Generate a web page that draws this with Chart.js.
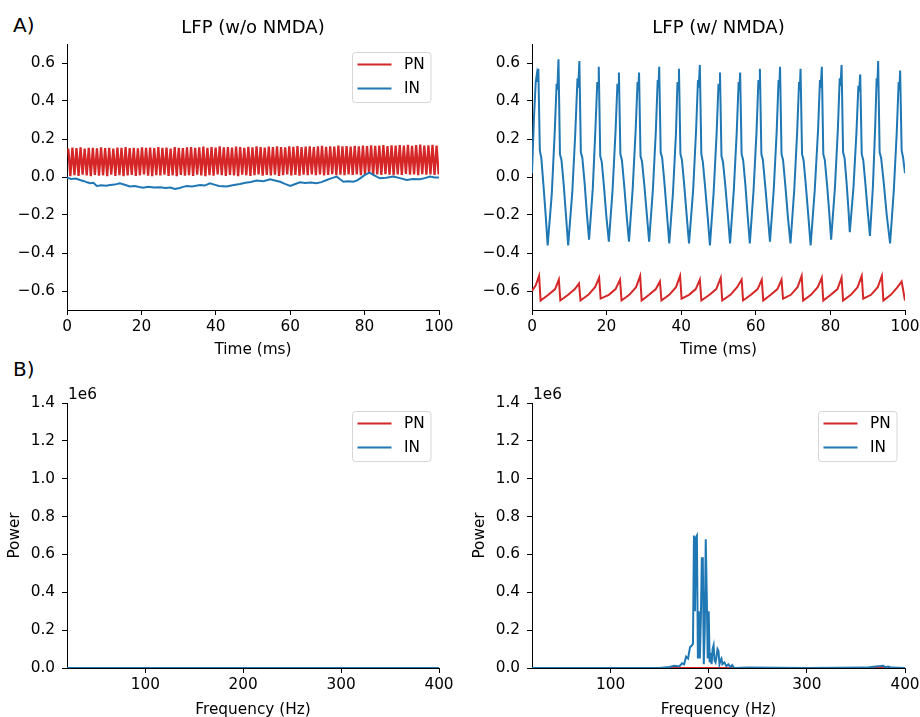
<!DOCTYPE html>
<html>
<head>
<meta charset="utf-8">
<script src="https://cdn.jsdelivr.net/npm/chart.js@4.4.1/dist/chart.umd.min.js"></script>
<style>
  body { margin: 0; width: 920px; height: 717px; overflow: hidden; background: #fff; position: relative; }
  canvas { position: absolute; }
  .panel { position: absolute; font: 20px "DejaVu Sans", sans-serif; line-height: 20px; color: #000; }
</style>
</head>
<body>
<div class="panel" style="left:13px; top:15.4px;">A)</div>
<div class="panel" style="left:13px; top:359px;">B)</div>
<canvas id="lfpNoNmda"></canvas>
<canvas id="lfpNmda"></canvas>
<canvas id="psdNoNmda"></canvas>
<canvas id="psdNmda"></canvas>
<script>
// tick labels
const timeTicks = [0, 20, 40, 60, 80, 100];
const lfpTicks = [-0.6, -0.4, -0.2, 0.0, 0.2, 0.4, 0.6];
const freqTicks = [100, 200, 300, 400];
const powerTicks = [0.0, 0.2, 0.4, 0.6, 0.8, 1.0, 1.2, 1.4];

// LFP w/o NMDA, PN: fast oscillation, one peak and one trough per cycle
const pnFlatStart = 0.35, pnFlatPeriod = 1.1; // ms
const pnFlatPeaks = [
  0.150, 0.155, 0.152, 0.156, 0.150, 0.154, 0.153, 0.151, 0.156, 0.152,
  0.154, 0.150, 0.155, 0.153, 0.157, 0.152, 0.154, 0.151, 0.156, 0.153,
  0.155, 0.152, 0.158, 0.153, 0.155, 0.150, 0.157, 0.154, 0.152, 0.156,
  0.158, 0.153, 0.156, 0.160, 0.154, 0.157, 0.155, 0.161, 0.156, 0.158,
  0.155, 0.160, 0.157, 0.154, 0.159, 0.156, 0.161, 0.158, 0.155, 0.160,
  0.157, 0.162, 0.158, 0.156, 0.161, 0.159, 0.163, 0.157, 0.160, 0.162,
  0.158, 0.161, 0.164, 0.159, 0.162, 0.160, 0.165, 0.161, 0.163, 0.160,
  0.164, 0.162, 0.166, 0.163, 0.167, 0.164, 0.166, 0.168, 0.163, 0.167,
  0.165, 0.168, 0.166, 0.169, 0.164, 0.168, 0.170, 0.165, 0.167, 0.169, 0.166
];
const pnFlatTroughs = [
  0.005, 0.010, 0.006, 0.012, 0.008, 0.004, 0.011, 0.007, 0.009, 0.005,
  0.012, 0.006, 0.010, 0.004, 0.008, 0.011, 0.006, 0.009, 0.013, 0.007,
  0.005, 0.010, 0.008, 0.012, 0.006, 0.009, 0.004, 0.011, 0.007, 0.010,
  0.006, 0.012, 0.008, 0.005, 0.010, 0.007, 0.013, 0.009, 0.006, 0.011,
  0.008, 0.005, 0.012, 0.009, 0.006, 0.010, 0.014, 0.007, 0.011, 0.008,
  0.012, 0.006, 0.010, 0.013, 0.008, 0.011, 0.007, 0.012, 0.009, 0.014,
  0.010, 0.013, 0.008, 0.011, 0.015, 0.009, 0.012, 0.010, 0.014, 0.011,
  0.013, 0.009, 0.012, 0.016, 0.010, 0.013, 0.011, 0.015, 0.012, 0.010,
  0.014, 0.011, 0.016, 0.012, 0.013, 0.010, 0.015, 0.012, 0.014, 0.011, 0.013
];

// LFP w/o NMDA, IN
const inFlatT = [0, 1.2, 2.4, 3.5, 4.6, 5.4, 6.2, 7.1, 8.0, 9.3,
  10.5, 11.6, 12.8, 14.2, 15.5, 16.9, 18.2, 19.4, 20.5, 21.8,
  23.4, 25.0, 26.5, 27.8, 29.0, 30.3, 31.2, 32.2, 33.6, 35.8,
  37.0, 38.4, 39.6, 40.8, 42.9, 44.5, 46.5, 48.0, 49.4, 51.0,
  52.8, 54.6, 55.9, 57.3, 58.6, 60.0, 61.2, 62.6, 64.0, 65.5,
  67.1, 68.4, 69.8, 71.2, 72.5, 73.4, 74.3, 75.6, 77.0, 78.0,
  78.8, 80.0, 81.3, 82.6, 84.1, 85.8, 87.7, 89.5, 91.3, 93.0,
  94.9, 96.2, 97.6, 98.8, 100];
const inFlatV = [-0.004, -0.010, -0.008, -0.016, -0.022, -0.028, -0.033, -0.030, -0.047, -0.044,
  -0.046, -0.042, -0.040, -0.033, -0.041, -0.050, -0.048, -0.053, -0.056, -0.051,
  -0.055, -0.054, -0.058, -0.055, -0.063, -0.058, -0.052, -0.047, -0.050, -0.042,
  -0.045, -0.033, -0.040, -0.047, -0.050, -0.043, -0.037, -0.030, -0.026, -0.019,
  -0.022, -0.012, -0.018, -0.025, -0.036, -0.047, -0.038, -0.028, -0.031, -0.029,
  -0.033, -0.027, -0.016, -0.006, 0.002, -0.012, -0.025, -0.022, -0.025, -0.018,
  -0.007, 0.010, 0.023, 0.008, -0.007, -0.004, 0.002, -0.006, -0.016, -0.010,
  -0.012, -0.006, 0.002, -0.003, -0.002];

// LFP w/ NMDA, PN
const pnNmdaT = [0, 1.0, 1.9,
  2.3, 4.4, 6.2, 7.2,  7.6, 9.7, 11.5, 12.6,  13.0, 15.1, 16.9, 18.0,  18.4, 20.6, 22.4, 23.6,
  24.0, 26.1, 27.9, 29.0,  29.4, 31.4, 33.2, 34.3,  34.7, 36.8, 38.6, 39.7,  40.1, 42.1, 43.9, 45.0,
  45.4, 47.6, 49.4, 50.6,  51.0, 53.2, 55.0, 56.2,  56.6, 58.7, 60.5, 61.6,  62.0, 64.0, 65.8, 66.9,
  67.3, 69.4, 71.2, 72.3,  72.7, 74.8, 76.6, 77.7,  78.1, 80.1, 81.9, 83.0,  83.4, 85.5, 87.3, 88.4,
  88.8, 90.9, 92.7, 93.8,  94.2, 96.2, 98.0, 99.1,  100];
const pnNmdaV = [-0.60, -0.57, -0.52,
  -0.65, -0.62, -0.59, -0.54,  -0.65, -0.62, -0.59, -0.56,  -0.65, -0.62, -0.58, -0.53,  -0.64, -0.62, -0.59, -0.54,
  -0.65, -0.62, -0.58, -0.52,  -0.65, -0.62, -0.59, -0.55,  -0.65, -0.62, -0.58, -0.52,  -0.64, -0.62, -0.59, -0.54,
  -0.65, -0.62, -0.59, -0.53,  -0.65, -0.62, -0.58, -0.54,  -0.65, -0.62, -0.59, -0.54,  -0.65, -0.62, -0.59, -0.54,
  -0.64, -0.62, -0.58, -0.52,  -0.65, -0.62, -0.58, -0.53,  -0.65, -0.62, -0.59, -0.53,  -0.65, -0.62, -0.58, -0.52,
  -0.64, -0.62, -0.58, -0.52,  -0.65, -0.62, -0.58, -0.55,  -0.65];

// LFP w/ NMDA, IN
const inNmdaT = [0, 0.5, 1.0, 1.3, 1.5, 1.7, 2.1, 2.5, 3.1, 3.7, 4.2, 5.3, 6.1, 6.6, 6.8, 7.1,
  7.5, 7.9, 8.5, 9.1, 9.7, 10.8, 11.6, 12.2, 12.4, 12.7,
  13.1, 13.5, 14.1, 14.7, 15.3, 16.3, 17.0, 17.5, 17.7, 17.9,
  18.3, 18.7, 19.3, 19.9, 20.6, 21.6, 22.4, 22.9, 23.1, 23.3,
  23.7, 24.1, 24.7, 25.4, 26.0, 27.0, 27.8, 28.3, 28.5, 28.7,
  29.1, 29.5, 30.1, 30.8, 31.4, 32.4, 33.2, 33.7, 33.9, 34.1,
  34.5, 34.9, 35.5, 36.2, 36.8, 37.8, 38.6, 39.0, 39.2, 39.4,
  39.8, 40.2, 40.8, 41.5, 42.1, 43.2, 44.0, 44.5, 44.7, 45.0,
  45.4, 45.8, 46.4, 47.1, 47.7, 48.7, 49.5, 50.0, 50.2, 50.4,
  50.8, 51.2, 51.8, 52.5, 53.1, 54.1, 54.9, 55.4, 55.6, 55.8,
  56.2, 56.6, 57.2, 57.8, 58.4, 59.4, 60.2, 60.7, 60.9, 61.1,
  61.5, 61.9, 62.5, 63.2, 63.8, 64.8, 65.6, 66.1, 66.3, 66.5,
  66.9, 67.3, 67.9, 68.6, 69.3, 70.3, 71.1, 71.6, 71.8, 72.0,
  72.4, 72.8, 73.4, 74.1, 74.7, 75.8, 76.7, 77.2, 77.4, 77.7,
  78.1, 78.5, 79.1, 79.7, 80.2, 81.2, 82.0, 82.5, 82.7, 83.0,
  83.4, 83.8, 84.3, 84.8, 85.2, 86.2, 87.0, 87.5, 87.7, 88.0,
  88.4, 88.8, 89.4, 90.0, 90.6, 91.4, 92.0, 92.4, 92.6, 92.8,
  93.2, 93.6, 94.3, 95.1, 96.0, 97.0, 97.8, 98.3, 98.5, 98.7,
  99.1, 99.5, 100];
const inNmdaV = [0.02, 0.30, 0.50, 0.54, 0.50, 0.57, 0.14, 0.10, -0.05, -0.21, -0.36, -0.09, 0.24, 0.49, 0.46, 0.62,
  0.12, 0.09, -0.04, -0.20, -0.36, -0.08, 0.23, 0.52, 0.47, 0.61,
  0.13, 0.10, -0.03, -0.19, -0.33, -0.06, 0.25, 0.50, 0.47, 0.58,
  0.11, 0.08, -0.05, -0.20, -0.34, -0.07, 0.24, 0.49, 0.45, 0.55,
  0.12, 0.09, -0.04, -0.21, -0.34, -0.06, 0.25, 0.50, 0.46, 0.55,
  0.11, 0.08, -0.04, -0.20, -0.34, -0.07, 0.24, 0.51, 0.47, 0.58,
  0.13, 0.10, -0.03, -0.20, -0.35, -0.08, 0.23, 0.50, 0.46, 0.57,
  0.12, 0.09, -0.04, -0.21, -0.35, -0.07, 0.25, 0.51, 0.47, 0.59,
  0.12, 0.08, -0.05, -0.21, -0.36, -0.08, 0.23, 0.49, 0.46, 0.55,
  0.11, 0.08, -0.04, -0.20, -0.35, -0.07, 0.24, 0.50, 0.46, 0.55,
  0.12, 0.09, -0.04, -0.20, -0.35, -0.07, 0.24, 0.51, 0.47, 0.57,
  0.12, 0.09, -0.04, -0.20, -0.34, -0.07, 0.24, 0.51, 0.47, 0.58,
  0.12, 0.09, -0.04, -0.21, -0.35, -0.07, 0.24, 0.50, 0.46, 0.57,
  0.12, 0.09, -0.04, -0.21, -0.36, -0.07, 0.25, 0.51, 0.47, 0.58,
  0.12, 0.09, -0.04, -0.19, -0.33, -0.06, 0.25, 0.52, 0.48, 0.59,
  0.13, 0.10, -0.02, -0.16, -0.29, -0.05, 0.24, 0.48, 0.45, 0.54,
  0.12, 0.09, -0.04, -0.18, -0.31, -0.05, 0.26, 0.52, 0.48, 0.61,
  0.13, 0.10, -0.03, -0.20, -0.35, -0.07, 0.24, 0.50, 0.46, 0.56,
  0.14, 0.10, 0.02];

// power spectra, in units of 1e6
const freqFlat = [20, 400];
const pnPowerFlat = [0, 0];
const inPowerFlat = [0, 0];
const freqNmda = [20, 150, 160, 165, 170, 173, 175, 177, 179, 181,
  183, 184, 185, 186, 187, 188, 189, 190, 191, 192,
  193, 194, 195, 196, 197, 198, 199, 200, 201, 202,
  203, 204, 205, 206, 207, 208, 209, 210, 211, 212,
  213, 214, 215, 216, 218, 220, 222, 224, 226, 240,
  300, 360, 370, 375, 378, 380, 383, 386, 400];
const inPowerNmda = [0, 0, 0.005, 0.012, 0.008, 0.025, 0.02, 0.06, 0.05, 0.11,
  0.12, 0.13, 0.70, 0.30, 0.69, 0.70, 0.05, 0.30, 0.05, 0.25,
  0.58, 0.58, 0.02, 0.20, 0.68, 0.40, 0.05, 0.30, 0.03, 0.08,
  0.02, 0.10, 0.12, 0.04, 0.03, 0.06, 0.10, 0.09, 0.02, 0.04,
  0.05, 0.02, 0.025, 0.03, 0.01, 0.02, 0.005, 0.015, 0, 0.002,
  0, 0.002, 0.008, 0.01, 0.012, 0.004, 0.008, 0.002, 0];
const pnPowerNmda = [0, 0];

const RED = '#d62728', BLUE = '#1f77b4';
const FONT = '"DejaVu Sans", sans-serif';
const FS = 15.3;
Chart.defaults.font.family = FONT;
Chart.defaults.font.size = FS;
Chart.defaults.color = '#000';

const pts = (xs, ys) => xs.map((x, i) => ({ x: x, y: ys[i] }));

const pnFlatPts = [];
pnFlatPeaks.forEach((p, k) => {
  const t = pnFlatStart + k * pnFlatPeriod;
  pnFlatPts.push({ x: t, y: p });
  pnFlatPts.push({ x: t + pnFlatPeriod / 2, y: pnFlatTroughs[k] });
});

const fmt1 = v => (v < -1e-9 ? '\u2212' : '') + Math.abs(v).toFixed(1);

// matplotlib-like legend box in the upper right of the axes
const boxLegend = {
  id: 'boxLegend',
  afterDatasetsDraw(chart) {
    if (!chart.options.plugins.boxLegend || !chart.options.plugins.boxLegend.show) return;
    const { ctx, chartArea } = chart;
    const w = 78.5, h = 50;
    const x = chartArea.right - 8 - w, y = chartArea.top + 8.5;
    ctx.save();
    ctx.beginPath();
    ctx.roundRect(x, y, w, h, 3);
    ctx.fillStyle = 'rgba(255,255,255,0.8)';
    ctx.fill();
    ctx.strokeStyle = 'rgba(204,204,204,0.8)';
    ctx.lineWidth = 1;
    ctx.stroke();
    chart.data.datasets.forEach((ds, i) => {
      const ly = y + 12 + i * 24;
      ctx.strokeStyle = ds.borderColor;
      ctx.lineWidth = 2;
      ctx.beginPath();
      ctx.moveTo(x + 5, ly);
      ctx.lineTo(x + 39, ly);
      ctx.stroke();
      ctx.fillStyle = '#000';
      ctx.font = FS + 'px ' + FONT;
      ctx.textBaseline = 'middle';
      ctx.textAlign = 'left';
      ctx.fillText(ds.label, x + 51.5, ly + 0.7);
    });
    ctx.restore();
  }
};

// "1e6" offset text above the y axis
const offsetText = {
  id: 'offsetText',
  afterDraw(chart) {
    if (!chart.options.plugins.offsetText || !chart.options.plugins.offsetText.text) return;
    const { ctx, chartArea } = chart;
    ctx.save();
    ctx.font = FS + 'px ' + FONT;
    ctx.fillStyle = '#000';
    ctx.textBaseline = 'alphabetic';
    ctx.fillText(chart.options.plugins.offsetText.text, chartArea.left + 1, chartArea.top - 4);
    ctx.restore();
  }
};

function axisX(min, max, ticks, title, h) {
  return {
    type: 'linear', min: min, max: max,
    afterBuildTicks: s => { s.ticks = ticks.map(v => ({ value: v })); },
    afterFit: s => { s.height = h; },
    ticks: { autoSkip: false, maxRotation: 0, padding: 3, callback: v => String(v) },
    grid: { drawOnChartArea: false, tickLength: 5, color: '#000', lineWidth: 1 },
    border: { color: '#000', width: 1 },
    title: { display: true, text: title, padding: { top: 0, bottom: 2.8 } }
  };
}

function axisY(min, max, ticks, title) {
  return {
    type: 'linear', min: min, max: max,
    afterBuildTicks: s => { s.ticks = ticks.map(v => ({ value: v })); },
    afterFit: s => { s.width = 67; },
    ticks: { autoSkip: false, padding: 7, callback: v => fmt1(v) },
    grid: { drawOnChartArea: false, tickLength: 5, color: '#000', lineWidth: 1 },
    border: { color: '#000', width: 1 },
    title: title ? { display: true, text: title, padding: { top: 5.8, bottom: 0 } } : { display: false }
  };
}

function lineSet(label, data, color, order, width) {
  return { label: label, data: data, borderColor: color, backgroundColor: color, borderWidth: width || 2,
    pointRadius: 0, tension: 0, fill: false, order: order };
}

function makePanel(id, box, datasets, scales, extra) {
  const cv = document.getElementById(id);
  cv.width = box.w; cv.height = box.h;
  cv.style.left = box.left + 'px'; cv.style.top = box.top + 'px';
  cv.style.width = box.w + 'px'; cv.style.height = box.h + 'px';
  return new Chart(cv, {
    type: 'line',
    data: { datasets: datasets },
    options: {
      responsive: false,
      animation: false,
      layout: { padding: { left: 0, right: 25, top: extra.padTop, bottom: 0 } },
      scales: scales,
      plugins: {
        legend: { display: false },
        tooltip: { enabled: false },
        title: extra.title ? { display: true, text: extra.title, fullSize: false,
          font: { size: 18, weight: 'normal' }, color: '#000', padding: { top: 17.9, bottom: 4.5 } } : { display: false },
        offsetText: { text: extra.offset || '' },
        boxLegend: { show: extra.legend }
      }
    },
    plugins: [boxLegend, offsetText]
  });
}

// top row: axes 44..310, bottom row: axes 403..668
makePanel('lfpNoNmda', { left: 0, top: 0, w: 67 + 372 + 25, h: 44 + 266 + 52 },
  [lineSet('PN', pnFlatPts, RED, 1, 2.3), lineSet('IN', pts(inFlatT, inFlatV), BLUE, 0)],
  { x: axisX(0, 100, timeTicks, 'Time (ms)', 52), y: axisY(-0.7, 0.7, lfpTicks) },
  { padTop: 0, title: 'LFP (w/o NMDA)', legend: true });

makePanel('lfpNmda', { left: 465, top: 0, w: 67 + 373 + 25, h: 44 + 266 + 52 },
  [lineSet('PN', pts(pnNmdaT, pnNmdaV), RED, 1), lineSet('IN', pts(inNmdaT, inNmdaV), BLUE, 0)],
  { x: axisX(0, 100, timeTicks, 'Time (ms)', 52), y: axisY(-0.7, 0.7, lfpTicks) },
  { padTop: 0, title: 'LFP (w/ NMDA)', legend: false });

makePanel('psdNoNmda', { left: 0, top: 383, w: 67 + 372 + 25, h: 20 + 265 + 54 },
  [lineSet('PN', pts(freqFlat, pnPowerFlat), RED, 1), lineSet('IN', pts(freqFlat, inPowerFlat), BLUE, 0)],
  { x: axisX(20, 400, freqTicks, 'Frequency (Hz)', 54), y: axisY(0, 1.4, powerTicks, 'Power') },
  { padTop: 20, offset: '1e6', legend: true });

makePanel('psdNmda', { left: 465, top: 383, w: 67 + 373 + 25, h: 20 + 265 + 54 },
  [lineSet('PN', pts(freqFlat, pnPowerNmda), RED, 1), lineSet('IN', pts(freqNmda, inPowerNmda), BLUE, 0)],
  { x: axisX(20, 400, freqTicks, 'Frequency (Hz)', 54), y: axisY(0, 1.4, powerTicks, 'Power') },
  { padTop: 20, offset: '1e6', legend: true });
</script>
</body>
</html>
